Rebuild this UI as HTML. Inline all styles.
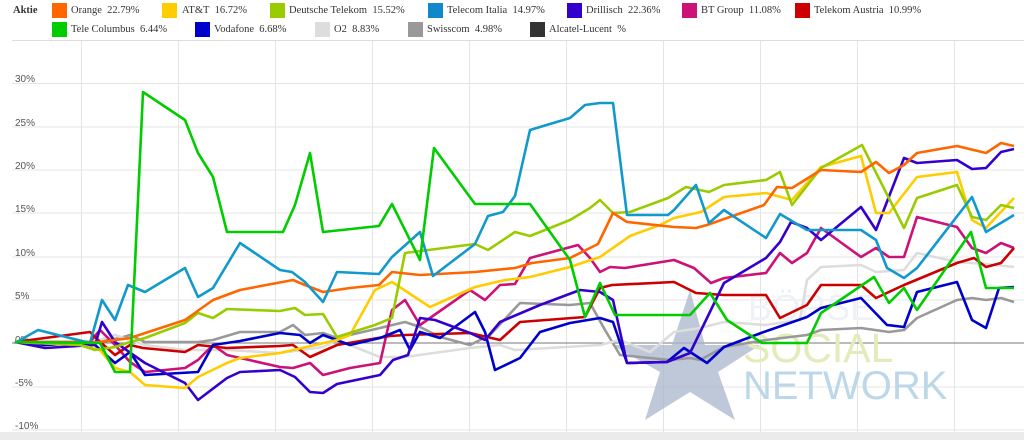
<!DOCTYPE html>
<html><head><meta charset="utf-8"><style>
body{margin:0;background:#fff;width:1024px;height:440px;overflow:hidden;font-family:"Liberation Serif",serif;}
.lg{position:absolute;font-size:10.5px;color:#333;white-space:nowrap;}
.sw{position:absolute;width:15px;height:15px;}
</style></head><body>
<div class="lg" style="left:13px;top:5px;font-weight:bold;">Aktie</div>
<div class="sw" style="left:52px;top:3px;background:#ff6600"></div><div class="lg" style="left:71px;top:5px">Orange&nbsp; 22.79%</div>
<div class="sw" style="left:162px;top:3px;background:#ffcc00"></div><div class="lg" style="left:182px;top:5px">AT&amp;T&nbsp; 16.72%</div>
<div class="sw" style="left:270px;top:3px;background:#99cc00"></div><div class="lg" style="left:289px;top:5px">Deutsche Telekom&nbsp; 15.52%</div>
<div class="sw" style="left:428px;top:3px;background:#1188cc"></div><div class="lg" style="left:447px;top:5px">Telecom Italia&nbsp; 14.97%</div>
<div class="sw" style="left:567px;top:3px;background:#3300cc"></div><div class="lg" style="left:586px;top:5px">Drillisch&nbsp; 22.36%</div>
<div class="sw" style="left:682px;top:3px;background:#cc1177"></div><div class="lg" style="left:701px;top:5px">BT Group&nbsp; 11.08%</div>
<div class="sw" style="left:795px;top:3px;background:#cc0000"></div><div class="lg" style="left:814px;top:5px">Telekom Austria&nbsp; 10.99%</div>
<div class="sw" style="left:52px;top:22px;background:#00cc00"></div><div class="lg" style="left:71px;top:24px">Tele Columbus&nbsp; 6.44%</div>
<div class="sw" style="left:195px;top:22px;background:#0000cc"></div><div class="lg" style="left:214px;top:24px">Vodafone&nbsp; 6.68%</div>
<div class="sw" style="left:315px;top:22px;background:#dddddd"></div><div class="lg" style="left:334px;top:24px">O2&nbsp; 8.83%</div>
<div class="sw" style="left:408px;top:22px;background:#999999"></div><div class="lg" style="left:427px;top:24px">Swisscom&nbsp; 4.98%</div>
<div class="sw" style="left:530px;top:22px;background:#333333"></div><div class="lg" style="left:549px;top:24px">Alcatel-Lucent&nbsp; %</div>
<svg width="1024" height="440" style="position:absolute;left:0;top:0" font-family="Liberation Sans, sans-serif">
<line x1="12" y1="40.5" x2="1024" y2="40.5" stroke="#ddd"/>
<g stroke="#e4e4e4" stroke-width="1">
<line x1="12" y1="83.5" x2="1024" y2="83.5"/><line x1="12" y1="127" x2="1024" y2="127"/><line x1="12" y1="170" x2="1024" y2="170"/><line x1="12" y1="213" x2="1024" y2="213"/><line x1="12" y1="257" x2="1024" y2="257"/><line x1="12" y1="300" x2="1024" y2="300"/><line x1="12" y1="387" x2="1024" y2="387"/><line x1="12" y1="430" x2="1024" y2="430"/>
<line x1="81.5" y1="41" x2="81.5" y2="432"/><line x1="178.5" y1="41" x2="178.5" y2="432"/><line x1="275.5" y1="41" x2="275.5" y2="432"/><line x1="372.5" y1="41" x2="372.5" y2="432"/><line x1="469.5" y1="41" x2="469.5" y2="432"/><line x1="566.5" y1="41" x2="566.5" y2="432"/><line x1="663.5" y1="41" x2="663.5" y2="432"/><line x1="760.5" y1="41" x2="760.5" y2="432"/><line x1="857.5" y1="41" x2="857.5" y2="432"/><line x1="954.5" y1="41" x2="954.5" y2="432"/>
</g>
<g font-size="10" fill="#555">
<text x="15" y="82">30%</text><text x="15" y="126">25%</text><text x="15" y="169">20%</text><text x="15" y="212">15%</text><text x="15" y="256">10%</text><text x="15" y="299">5%</text><text x="15" y="343">0%</text><text x="15" y="386">-5%</text><text x="15" y="429">-10%</text>
</g>
<line x1="12" y1="343" x2="1024" y2="343" stroke="#777" stroke-width="1"/>
<polygon points="690,290 705,345 760,345 718,372 735,420 690,392 645,420 660,372 612,345 672,345" fill="#a9b6cc" opacity="0.75"/>
<text x="743" y="362" font-size="41" fill="#e3ebb8">SOCIAL</text>
<text x="743" y="399" font-size="40" fill="#bcd7e8">NETWORK</text>
<text x="748" y="320" font-size="36" fill="#eef2f6">BÖRSE</text>
<g fill="none" stroke-width="2.6" stroke-linejoin="round">
<polyline stroke="#999999" points="15,342 90,343 120,338 130,335 145,342 198,342 213,340 240,332 280,332 293,325 305,335 323,333 337,338 380,328 405,322 420,327 440,337 470,345 490,335 520,303 570,305 590,303 605,330 620,355 670,360 690,358 700,360 724,347 766,340 807,335 821,330 861,328 889,332 904,330 917,318 957,300 972,298 986,300 1001,298 1014,302"/>
<polyline stroke="#dddddd" points="15,342 90,343 115,335 130,340 145,345 185,350 227,350 280,353 323,347 337,340 380,357 405,357 470,348 500,345 515,350 600,345 620,340 650,352 674,332 700,328 724,322 765,325 800,320 807,280 821,267 861,265 876,272 904,270 917,253 957,262 986,264 1014,267"/>
<polyline stroke="#cc1177" points="15,342 90,342 100,330 115,345 130,362 145,372 185,368 198,360 213,345 227,355 280,367 293,368 310,363 323,375 350,368 380,363 392,310 405,300 420,325 470,290 485,300 500,285 515,284 530,258 578,245 590,258 600,272 610,267 625,268 674,260 694,268 711,283 724,278 766,273 780,253 792,263 807,253 821,228 861,257 876,248 889,257 904,257 917,217 957,227 972,248 986,253 1001,243 1014,248"/>
<polyline stroke="#cc0000" points="15,342 90,332 98,340 115,355 130,345 143,348 185,352 198,345 227,348 280,346 293,345 310,357 337,345 390,336 405,335 470,333 500,340 520,322 585,317 600,288 612,285 674,282 696,293 724,295 766,295 780,318 807,305 821,285 861,285 876,298 904,285 957,263 974,258 986,267 1001,263 1014,248"/>
<polyline stroke="#0000cc" points="15,342 45,345 80,343 95,345 115,363 130,352 145,375 198,372 213,345 240,341 280,333 300,335 310,343 323,335 350,345 380,338 400,330 410,350 420,332 440,338 475,312 485,332 495,370 520,358 540,332 570,323 600,318 613,322 627,363 667,362 684,348 707,363 724,347 761,333 807,317 821,308 861,298 887,325 904,327 917,292 957,282 972,320 986,328 999,288 1014,287"/>
<polyline stroke="#3300cc" points="15,342 45,348 95,345 102,322 115,342 145,363 185,383 198,400 227,378 240,372 280,370 295,377 310,392 323,393 337,384 380,375 393,360 408,355 420,318 435,320 470,333 485,340 500,322 540,305 580,290 600,292 613,300 627,363 667,362 690,353 724,283 766,258 780,242 791,222 807,228 821,240 861,207 876,230 904,158 917,163 957,160 972,169 986,168 1001,152 1014,149"/>
<polyline stroke="#ffcc00" points="15,342 80,345 100,350 115,368 130,372 145,385 185,388 198,377 227,363 240,358 280,353 337,340 350,335 375,290 392,282 430,307 475,287 505,280 530,277 570,267 600,257 630,236 660,225 674,218 701,212 724,197 766,193 792,200 821,167 861,156 876,213 889,213 917,177 957,172 972,220 986,228 1014,198"/>
<polyline stroke="#99cc00" points="15,342 80,345 95,350 115,347 130,342 145,338 185,323 198,313 213,318 227,309 280,311 295,308 305,315 323,314 337,337 375,325 392,318 405,253 475,244 488,250 515,232 530,236 570,220 590,208 600,200 613,213 630,212 668,198 686,187 709,192 724,185 766,180 780,172 792,205 821,168 862,145 904,228 917,198 957,185 972,217 986,220 1001,205 1014,208"/>
<polyline stroke="#ff6600" points="15,342 100,342 130,338 185,320 213,300 240,290 293,280 305,285 323,292 350,288 379,285 392,272 420,275 475,272 515,268 532,263 570,258 598,244 613,213 627,222 674,227 696,228 707,225 764,205 777,187 792,188 821,170 861,172 876,162 889,173 904,165 917,153 957,146 986,153 1001,143 1014,146"/>
<polyline stroke="#1199cc" points="15,343 38,330 90,343 102,300 115,320 128,285 145,292 185,268 198,297 213,288 240,243 280,270 292,272 305,282 323,302 337,272 379,274 392,257 420,232 433,276 475,244 488,216 503,212 515,196 530,130 570,118 585,105 600,103 613,103 627,215 668,215 674,210 696,185 709,223 724,210 766,238 780,214 807,230 861,230 876,240 887,268 904,278 917,268 972,197 986,232 1014,215"/>
<polyline stroke="#00cc00" points="15,342 100,343 115,372 130,372 143,92 185,120 198,153 213,177 227,232 283,232 295,205 310,153 323,232 379,226 392,204 420,260 434,148 475,204 530,204 570,260 585,317 600,283 615,315 690,315 710,293 727,320 762,343 807,343 821,313 874,277 889,303 904,288 917,310 971,232 986,288 1014,288"/>
</g>
<rect x="0" y="432" width="1024" height="8" fill="#ebebeb"/>
</svg>
</body></html>
